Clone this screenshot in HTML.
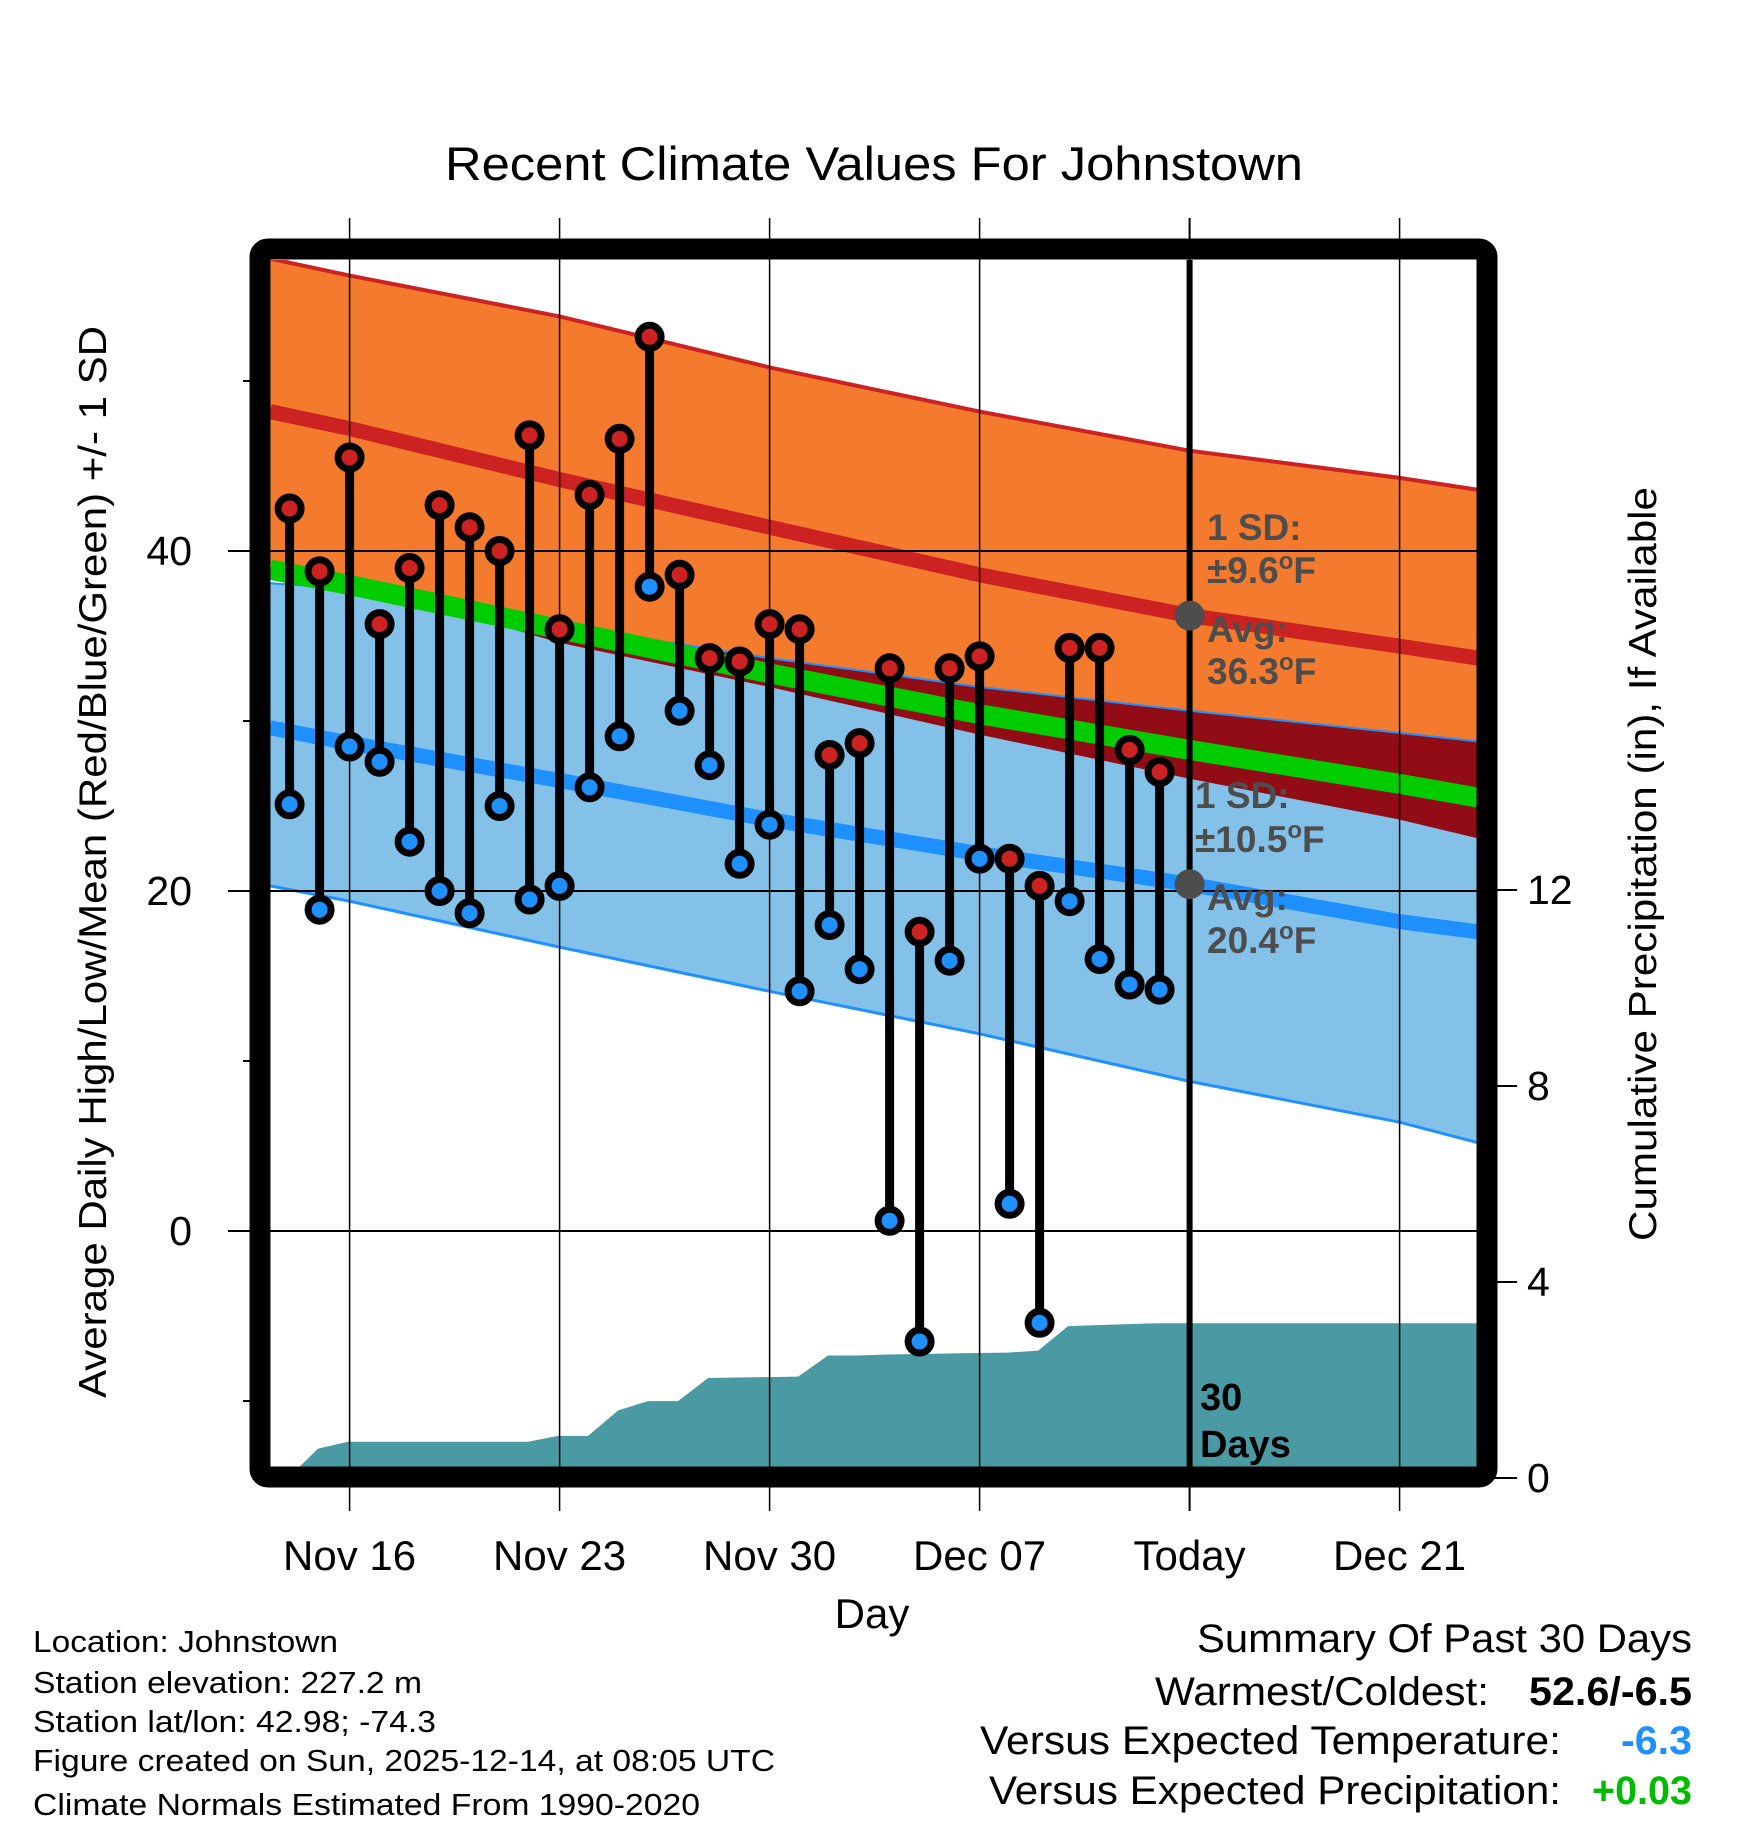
<!DOCTYPE html>
<html><head><meta charset="utf-8">
<style>
html,body{margin:0;padding:0;background:#fff;}
svg{display:block;font-family:"Liberation Sans",Arial,sans-serif;}
</style></head>
<body>
<svg id="chart" width="1748" height="1828" viewBox="0 0 1748 1828" xmlns="http://www.w3.org/2000/svg">
<defs>
<clipPath id="plotClip"><rect x="270" y="260" width="1207" height="1207"/></clipPath>
<clipPath id="lowBandClip"><polygon id="lowBandClipPoly" points=""/></clipPath>
</defs>
<g id="plot" clip-path="url(#plotClip)"></g>
<g id="overlay"></g>
</svg>
<script>
// ---- data ----
const dayLabels = ["Nov 14","Nov 15","Nov 16","Nov 17","Nov 18","Nov 19","Nov 20","Nov 21","Nov 22","Nov 23","Nov 24","Nov 25","Nov 26","Nov 27","Nov 28","Nov 29","Nov 30","Dec 01","Dec 02","Dec 03","Dec 04","Dec 05","Dec 06","Dec 07","Dec 08","Dec 09","Dec 10","Dec 11","Dec 12","Dec 13"];
const dayOffsets = [-2,-1,0,1,2,3,4,5,6,7,8,9,10,11,12,13,14,15,16,17,18,19,20,21,22,23,24,25,26,27];
const highs = [42.5,38.8,45.5,35.7,39.0,42.7,41.4,40.0,46.8,35.4,43.3,46.6,52.6,38.6,33.7,33.5,35.7,35.4,28.0,28.7,33.1,17.6,33.1,33.8,21.9,20.3,34.3,34.3,28.3,27.0];
const lows = [25.1,18.9,28.5,27.6,22.9,20.0,18.7,25.0,19.5,20.3,26.1,29.1,37.9,30.6,27.4,21.6,23.9,14.1,18.0,15.4,0.6,-6.5,15.9,21.9,1.6,-5.4,19.4,16.0,14.5,14.2];
const precipCum = [0,0.6,0.74,0.74,0.74,0.74,0.74,0.74,0.74,0.86,0.86,1.38,1.57,1.57,2.04,2.05,2.06,2.07,2.5,2.5,2.52,2.53,2.54,2.55,2.56,2.6,3.1,3.12,3.14,3.16];
const normDays = [-2.65,0,7,14,21,28,35,37.6];
const highAvg = [48.2,47.2,44.2,41.4,38.6,36.2,34.4,33.7];
const highUpper = [57.2,56.2,53.8,50.8,48.2,45.9,44.3,43.6];
const highLower = [39.2,38.2,34.6,32.0,29.2,26.6,24.2,23.1];
const lowAvg = [29.6,28.7,26.5,24.2,22.2,20.4,18.2,17.6];
const lowUpper = [38.1,37.8,35.6,33.7,32.0,30.6,29.3,28.8];
const lowLower = [20.3,19.4,16.7,14.1,11.6,8.8,6.4,5.2];
const meanNorm = [38.9,38.0,35.4,32.8,30.4,28.3,26.3,25.5];
const xTickDays = [0,7,14,21,28,35];
const xTickLabels = ["Nov 16","Nov 23","Nov 30","Dec 07","Today","Dec 21"];
const yTicks = [0,20,40];
const yMinorTicks = [-10,10,30,50];
const pTicks = [0,4,8,12];

// ---- axes ----
const X = d => 349.6 + 30*d;
const Y = v => 1231 - 17*v;
const P = p => 1478 - 49*p;
const NS = "http://www.w3.org/2000/svg";
const svg = document.getElementById('chart');
const plot = document.getElementById('plot');
function mk(tag, attrs, parent){const e=document.createElementNS(NS,tag);for(const k in attrs)e.setAttribute(k,attrs[k]);parent.appendChild(e);return e;}
function pts(days, vals){return days.map((d,i)=>X(d).toFixed(1)+','+Y(vals[i]).toFixed(1));}
function band(up, lo){return pts(normDays,up).concat(pts(normDays,lo).reverse()).join(' ');}

let e;
e = mk('polygon',{points:band(highUpper,highLower),fill:'#F47A2E'},plot);


e = mk('polygon',{points:band(lowUpper,lowLower),fill:'#84C1E8'},plot);


document.getElementById('lowBandClipPoly').setAttribute('points',band(lowUpper,lowLower));
e = mk('polygon',{points:band(highUpper,highLower),fill:'#910C14','clip-path':'url(#lowBandClip)'},plot);


e = mk('polyline',{points:pts(normDays,highUpper).join(' '),fill:'none',stroke:'#CC2222','stroke-width':4},plot);


e = mk('polyline',{points:pts(normDays,lowUpper).join(' '),fill:'none',stroke:'#1E90FF','stroke-width':2},plot);


e = mk('polyline',{points:pts(normDays,lowLower).join(' '),fill:'none',stroke:'#1E90FF','stroke-width':3},plot);


e = mk('polyline',{points:pts(normDays,meanNorm).join(' '),fill:'none',stroke:'#00CC00','stroke-width':20},plot);


e = mk('polyline',{points:pts(normDays,highAvg).join(' '),fill:'none',stroke:'#CC2222','stroke-width':15},plot);


e = mk('polyline',{points:pts(normDays,lowAvg).join(' '),fill:'none',stroke:'#1E90FF','stroke-width':15},plot);



// precip area
{
  const sh = -0.05;
  const ps = dayOffsets.map((d,i)=>X(d+sh).toFixed(1)+','+P(precipCum[i]).toFixed(1));
  ps.push(X(37.8).toFixed(1)+','+P(precipCum[precipCum.length-1]).toFixed(1));
  ps.push(X(37.8).toFixed(1)+','+P(0).toFixed(1));
  ps.push(X(dayOffsets[0]+sh).toFixed(1)+','+P(0).toFixed(1));
  e = mk('polygon',{points:ps.join(' '),fill:'#4A9AA3'},plot);
  
  
}

// gridlines
yTicks.forEach(v=>{
  e = mk('line',{x1:228,x2:1477,y1:Y(v),y2:Y(v),stroke:'#000','stroke-width':2},svg);
  
  
  e = mk('text',{x:192,y:Y(v)+14,'font-size':41,'text-anchor':'end'},svg);
  e.textContent=v;
  
  
});
yMinorTicks.forEach(v=>{
  e = mk('line',{x1:243,x2:262,y1:Y(v),y2:Y(v),stroke:'#000','stroke-width':2},svg);
  
  
});
pTicks.forEach(p=>{
  e = mk('line',{x1:1487,x2:1517,y1:P(p),y2:P(p),stroke:'#000','stroke-width':2},svg);
  
  
  e = mk('text',{x:1527,y:P(p)+14,'font-size':41},svg);
  e.textContent=p;
  
  
});
xTickDays.forEach((d,i)=>{
  const today = xTickLabels[i]==='Today';
  e = mk('line',{x1:X(d),x2:X(d),y1:218,y2:1511,stroke:'#000','stroke-width':today?2:1.5},svg);
  
  
  if(today){
    e = mk('line',{x1:X(d),x2:X(d),y1:260,y2:1467,stroke:'#000','stroke-width':6},svg);
    
    
  }
  e = mk('text',{x:X(d),y:1570,'font-size':42,'text-anchor':'middle'},svg);
  e.textContent=xTickLabels[i];
  
  
});

// stems and markers
dayOffsets.forEach((d,i)=>{
  e = mk('line',{x1:X(d),x2:X(d),y1:Y(highs[i]),y2:Y(lows[i]),stroke:'#000','stroke-width':9},svg);
  
  
});
dayOffsets.forEach((d,i)=>{
  e = mk('circle',{cx:X(d),cy:Y(highs[i]),r:11.5,fill:'#CC2222',stroke:'#000','stroke-width':7},svg);
  
  
  e = mk('circle',{cx:X(d),cy:Y(lows[i]),r:11.5,fill:'#1E90FF',stroke:'#000','stroke-width':7},svg);
  
  
});
e = mk('circle',{cx:X(28),cy:Y(highAvg[5]),r:15,fill:'#4d4d4d'},svg);


e = mk('circle',{cx:X(28),cy:Y(lowAvg[5]),r:15,fill:'#4d4d4d'},svg);


</script>
<svg style="position:absolute;left:0;top:0" width="1748" height="1828" viewBox="0 0 1748 1828" xmlns="http://www.w3.org/2000/svg" font-family="Liberation Sans, Arial, sans-serif">
  <rect x="260" y="249" width="1227" height="1228" rx="8" fill="none" stroke="#000" stroke-width="21"/>
  <text x="874" y="180" font-size="47" text-anchor="middle" textLength="858" lengthAdjust="spacingAndGlyphs">Recent Climate Values For Johnstown</text>
  <g font-size="37" font-weight="bold" fill="#4d4d4d">
    <text x="1207" y="540">1 SD:</text>
    <text x="1207" y="583">±9.6<tspan font-size="24" dy="-14">o</tspan><tspan dy="14">F</tspan></text>
    <text x="1207" y="642">Avg:</text>
    <text x="1207" y="684">36.3<tspan font-size="24" dy="-14">o</tspan><tspan dy="14">F</tspan></text>
    <text x="1195" y="808">1 SD:</text>
    <text x="1195" y="852">±10.5<tspan font-size="24" dy="-14">o</tspan><tspan dy="14">F</tspan></text>
    <text x="1207" y="910">Avg:</text>
    <text x="1207" y="953">20.4<tspan font-size="24" dy="-14">o</tspan><tspan dy="14">F</tspan></text>
  </g>
  <g font-size="38" font-weight="bold" fill="#000">
    <text x="1200" y="1410">30</text>
    <text x="1200" y="1457">Days</text>
  </g>
  <text transform="translate(106,862) rotate(-90)" font-size="39" text-anchor="middle" textLength="1072" lengthAdjust="spacingAndGlyphs">Average Daily High/Low/Mean (Red/Blue/Green) +/- 1 SD</text>
  <text transform="translate(1656,864) rotate(-90)" font-size="39" text-anchor="middle" textLength="754" lengthAdjust="spacingAndGlyphs">Cumulative Precipitation (in), If Available</text>
  <text x="872" y="1628" font-size="42" text-anchor="middle">Day</text>
  <g font-size="31">
    <text x="33" y="1652" textLength="305" lengthAdjust="spacingAndGlyphs">Location: Johnstown</text>
    <text x="33" y="1693" textLength="389" lengthAdjust="spacingAndGlyphs">Station elevation: 227.2 m</text>
    <text x="33" y="1732" textLength="403" lengthAdjust="spacingAndGlyphs">Station lat/lon: 42.98; -74.3</text>
    <text x="33" y="1771" textLength="742" lengthAdjust="spacingAndGlyphs">Figure created on Sun, 2025-12-14, at 08:05 UTC</text>
    <text x="33" y="1815" textLength="667" lengthAdjust="spacingAndGlyphs">Climate Normals Estimated From 1990-2020</text>
  </g>
  <g font-size="40">
    <text x="1197" y="1652" textLength="495" lengthAdjust="spacingAndGlyphs">Summary Of Past 30 Days</text>
    <text x="1155" y="1705" textLength="334" lengthAdjust="spacingAndGlyphs">Warmest/Coldest:</text>
    <text x="1529" y="1705" font-weight="bold" textLength="163" lengthAdjust="spacingAndGlyphs">52.6/-6.5</text>
    <text x="980" y="1754" textLength="581" lengthAdjust="spacingAndGlyphs">Versus Expected Temperature:</text>
    <text x="1621" y="1754" font-weight="bold" fill="#1E90FF" textLength="71" lengthAdjust="spacingAndGlyphs">-6.3</text>
    <text x="989" y="1804" textLength="572" lengthAdjust="spacingAndGlyphs">Versus Expected Precipitation:</text>
    <text x="1592" y="1804" font-weight="bold" fill="#00BB00" textLength="100" lengthAdjust="spacingAndGlyphs">+0.03</text>
  </g>
</svg>
</body></html>
